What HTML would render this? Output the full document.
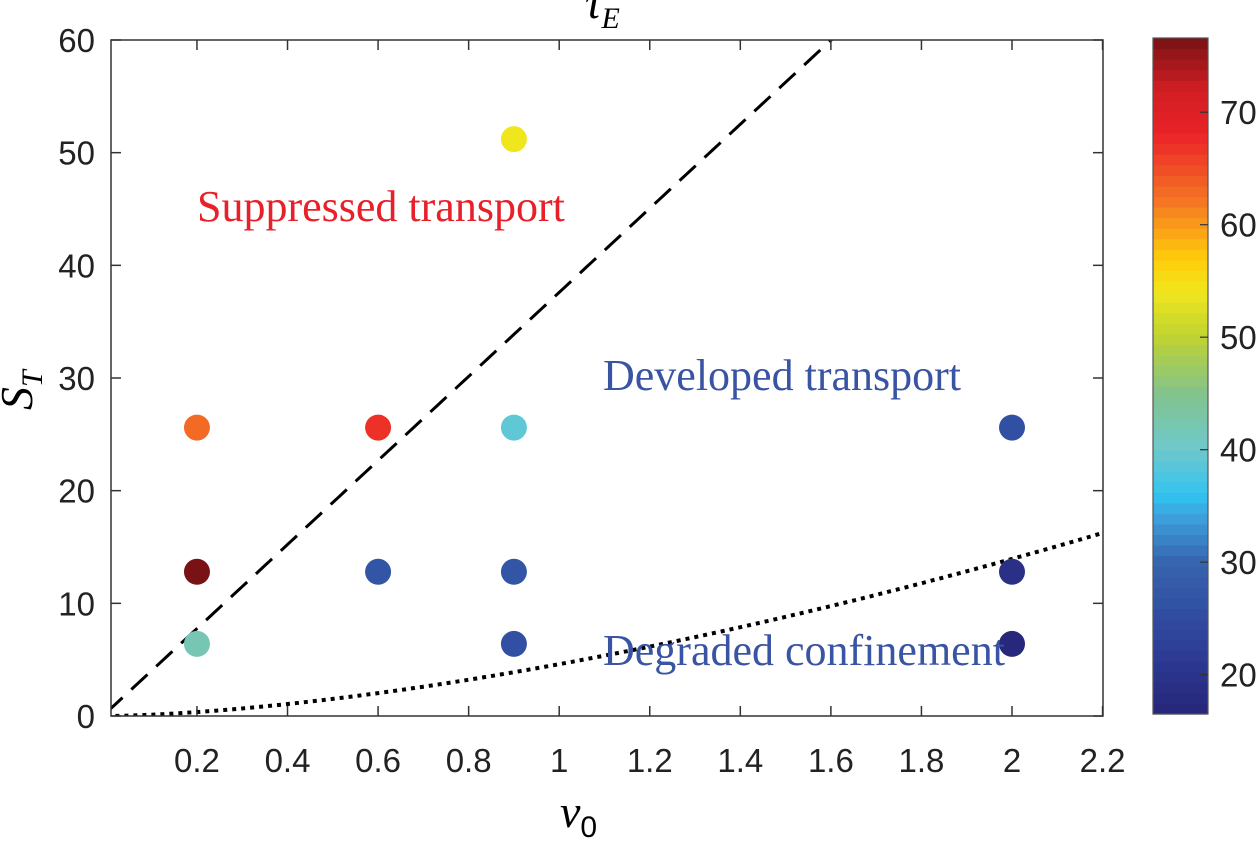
<!DOCTYPE html>
<html><head><meta charset="utf-8"><style>
body{margin:0;background:#fff;overflow:hidden}
svg text{font-family:"Liberation Sans",sans-serif}
</style></head><body>
<svg id="c" width="1257" height="849"></svg>
<script>
const xTicks=[0.2,0.4,0.6,0.8,1,1.2,1.4,1.6,1.8,2,2.2];
const xTickLabels=["0.2","0.4","0.6","0.8","1","1.2","1.4","1.6","1.8","2","2.2"];
const yTicks=[0,10,20,30,40,50,60];
const cbTicks=[20,30,40,50,60,70];
const ptNu=[0.2,0.2,0.2,0.6,0.6,0.9,0.9,0.9,0.9,2,2,2];
const ptS=[25.6,12.8,6.4,25.6,12.8,51.2,25.6,12.8,6.4,25.6,12.8,6.4];
const ptTau=[63,77,42,67,27,54,39,27,26,26,19,17];
const dashSlope=[37.3];
const dotCoef=[4.6,1.6];
const cbMin=16.5, cbMax=76.6;
const L=111,R=1103,T=40,B=716;
const X=v=>106.4+452.8*v, Y=v=>B-(B-T)*v/60;
const NS="http://www.w3.org/2000/svg", svg=document.getElementById('c');
function mk(t,a,p){const e=document.createElementNS(NS,t);for(const k in a)e.setAttribute(k,a[k]);(p||svg).appendChild(e);return e;}
const stops=[[16.5,[38,38,120]],[22,[45,60,150]],[30,[55,100,175]],[34,[60,160,220]],[36,[50,195,240]],[40,[110,200,205]],[45,[130,195,140]],[50,[190,210,50]],[54,[240,230,30]],[57,[255,205,10]],[62,[245,120,35]],[68,[235,35,40]],[72,[210,30,35]],[76.6,[120,18,20]]];
function cmap(v){for(let i=0;i<stops.length-1;i++){const a=stops[i],b=stops[i+1];if(v<=b[0]){const t=Math.max(0,(v-a[0])/(b[0]-a[0]));return 'rgb('+a[1].map((c,j)=>Math.round(c+(b[1][j]-c)*t)).join(',')+')';}}const l=stops[stops.length-1][1];return 'rgb('+l.join(',')+')';}
const cp=mk('clipPath',{id:'cp'});mk('rect',{x:L,y:T,width:R-L,height:B-T},cp);
let d='';for(let v=0;v<=2.3;v+=0.01){d+=(d?'L':'M')+X(v)+','+Y(v*dashSlope[0]+0.3);}
let e=mk('path',{d:d,fill:'none',stroke:'#000','stroke-width':3,'stroke-dasharray':'22,12','clip-path':'url(#cp)'});

d='';for(let v=0;v<=2.25;v+=0.01){d+=(d?'L':'M')+X(v)+','+Y(dotCoef[0]*Math.pow(v,dotCoef[1]));}
e=mk('path',{d:d,fill:'none',stroke:'#000','stroke-width':4,'stroke-dasharray':'4,5','clip-path':'url(#cp)'});

ptNu.forEach((n,i)=>{const c=mk('circle',{cx:X(n),cy:Y(ptS[i]),r:13,fill:cmap(ptTau[i])});

});
e=mk('rect',{x:L,y:T,width:R-L,height:B-T,fill:'none',stroke:'#333','stroke-width':1.5});

xTicks.forEach((v,i)=>{mk('line',{x1:X(v),x2:X(v),y1:B,y2:B-10,stroke:'#333','stroke-width':1.5});mk('line',{x1:X(v),x2:X(v),y1:T,y2:T+10,stroke:'#333','stroke-width':1.5});
const t=mk('text',{x:X(v),y:B+56,'text-anchor':'middle','font-size':33,fill:'#222'});t.textContent=xTickLabels[i];
});
yTicks.forEach(v=>{mk('line',{x1:L,x2:L+10,y1:Y(v),y2:Y(v),stroke:'#333','stroke-width':1.5});mk('line',{x1:R,x2:R-10,y1:Y(v),y2:Y(v),stroke:'#333','stroke-width':1.5});
const t=mk('text',{x:L-16,y:Y(v)+12,'text-anchor':'end','font-size':33,fill:'#222'});t.textContent=v;
});
const CL=1153,CR=1208,CT=38,CB=714,CY=v=>CB-(CB-CT)*(v-cbMin)/(cbMax-cbMin);
const n=64;for(let i=0;i<n;i++){const v0=cbMin+(cbMax-cbMin)*i/n,v1=cbMin+(cbMax-cbMin)*(i+1)/n;mk('rect',{x:CL,y:CY(v1),width:CR-CL,height:CY(v0)-CY(v1)+0.6,fill:cmap((v0+v1)/2)});}
e=mk('rect',{x:CL,y:CT,width:CR-CL,height:CB-CT,fill:'none',stroke:'#555','stroke-width':1.2});

cbTicks.forEach(v=>{mk('line',{x1:CR-8,x2:CR,y1:CY(v),y2:CY(v),stroke:'#333','stroke-width':1.2});
const t=mk('text',{x:CR+12,y:CY(v)+12,'font-size':33,fill:'#222'});t.textContent=v;
});
</script>
<div style="position:absolute;left:0;top:0;width:1257px;height:849px;pointer-events:none;font-family:'Liberation Serif',serif">
<div style="position:absolute;left:585px;top:-24px;font-size:46px;font-style:italic">τ<sub style="font-size:30px">E</sub></div>
<div style="position:absolute;left:197px;top:181px;font-size:44px;color:#e8202a;white-space:nowrap">Suppressed transport</div>
<div style="position:absolute;left:603px;top:350px;font-size:44px;color:#3a54a4;white-space:nowrap">Developed transport</div>
<div style="position:absolute;left:603px;top:625px;font-size:44px;color:#3a54a4;white-space:nowrap">Degraded confinement</div>
<div style="position:absolute;left:560px;top:785px;font-size:46px;font-style:italic">ν<sub style="font-size:30px;font-style:normal;font-family:'Liberation Sans',sans-serif">0</sub></div>
<div style="position:absolute;left:0px;top:360px;font-size:46px;font-style:italic;transform:rotate(-90deg);transform-origin:center">S<sub style="font-size:30px">T</sub></div>
</div>
</body></html>
